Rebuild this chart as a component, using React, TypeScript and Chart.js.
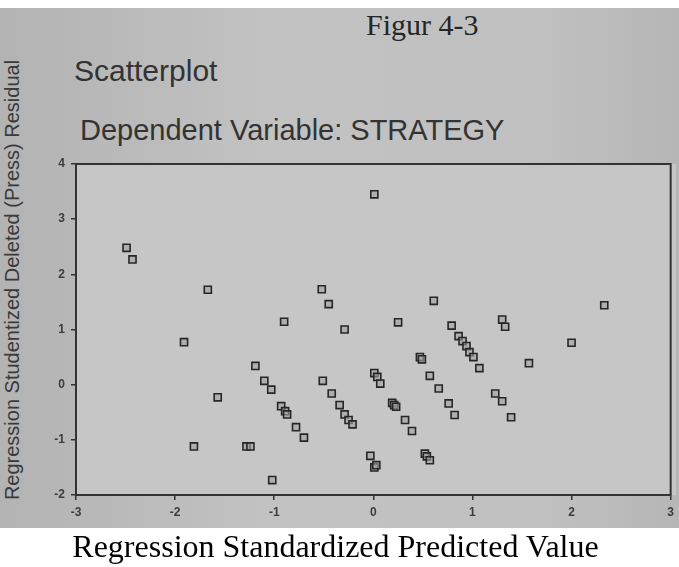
import React, { useEffect, useRef } from "react";
import { Chart, registerables } from "chart.js";

Chart.register(...registerables);

// Regression standardized predicted value (x) vs studentized deleted residual (y)
const predictedValues: number[] = [
  -2.49, -2.43, -1.67, -1.91, -1.57, -1.81, -1.28, -1.24, -1.19, -1.1,
  -1.03, -0.93, -0.89, -0.87, -0.78, -0.7, -1.02, -0.9, -0.52, -0.45,
  -0.29, -0.51, -0.42, -0.34, -0.29, -0.25, -0.21, 0.01, 0.01, 0.04,
  0.07, -0.03, 0.01, 0.03, 0.19, 0.21, 0.23, 0.32, 0.39, 0.25,
  0.47, 0.49, 0.57, 0.66, 0.76, 0.82, 0.52, 0.54, 0.57, 0.61,
  0.79, 0.86, 0.9, 0.94, 0.97, 1.01, 1.07, 1.3, 1.33, 1.57,
  2.0, 2.33, 1.23, 1.3, 1.39,
];
const residualValues: number[] = [
  2.48, 2.27, 1.72, 0.77, -0.23, -1.12, -1.12, -1.12, 0.34, 0.07,
  -0.09, -0.39, -0.48, -0.54, -0.77, -0.96, -1.73, 1.14, 1.73, 1.46,
  1.0, 0.07, -0.16, -0.37, -0.54, -0.64, -0.72, 3.45, 0.21, 0.14,
  0.02, -1.29, -1.5, -1.46, -0.33, -0.37, -0.4, -0.64, -0.84, 1.13,
  0.5, 0.46, 0.16, -0.07, -0.34, -0.55, -1.25, -1.3, -1.37, 1.52,
  1.07, 0.88, 0.79, 0.7, 0.59, 0.5, 0.3, 1.18, 1.05, 0.39,
  0.76, 1.44, -0.16, -0.3, -0.59,
];

const xMin = -3;
const xMax = 3;
const yMin = -2;
const yMax = 4;

const figureLabel = "Figur 4-3";
const chartTitle = "Scatterplot";
const subTitle = "Dependent Variable: STRATEGY";
const xTitle = "Regression Standardized Predicted Value";
const yTitle = "Regression Studentized Deleted (Press) Residual";

const framePlugin = {
  id: "frame",
  afterDraw(chart: any) {
    const { ctx, chartArea } = chart;
    ctx.save();
    ctx.strokeStyle = "#333";
    ctx.lineWidth = 2;
    ctx.beginPath();
    ctx.moveTo(chartArea.left, chartArea.top);
    ctx.lineTo(chartArea.right, chartArea.top);
    ctx.lineTo(chartArea.right, chartArea.bottom);
    ctx.stroke();
    ctx.restore();
  },
};

export default function App() {
  const canvasRef = useRef<HTMLCanvasElement | null>(null);

  useEffect(() => {
    const canvas = canvasRef.current;
    if (!canvas) return;
    const points = predictedValues.map((x, i) => ({ x, y: residualValues[i] }));
    const tickFont = { family: "'Liberation Sans', Arial, sans-serif", size: 12, weight: "bold" as const };
    const chart = new Chart(canvas, {
      type: "scatter",
      data: {
        datasets: [
          {
            data: points,
            pointStyle: "rect",
            pointRadius: 5,
            borderColor: "#262626",
            borderWidth: 1.6,
            backgroundColor: "rgba(160,160,160,0.6)",
          },
        ],
      },
      options: {
        animation: false,
        responsive: false,
        maintainAspectRatio: false,
        layout: { padding: { left: 0, top: 164, right: 3, bottom: 42 } },
        plugins: { legend: { display: false }, tooltip: { enabled: false }, title: { display: false } },
        scales: {
          x: {
            type: "linear",
            min: xMin,
            max: xMax,
            afterFit: (s: any) => {
              s.height = 30;
            },
            ticks: { stepSize: 1, color: "#3c3c3c", font: tickFont, padding: 5 },
            grid: { display: true, drawOnChartArea: false, drawTicks: true, tickLength: 5, color: "#333", lineWidth: 1.5 },
            border: { display: true, color: "#333", width: 2 },
          },
          y: {
            type: "linear",
            min: yMin,
            max: yMax,
            afterFit: (s: any) => {
              s.width = 76;
            },
            ticks: { stepSize: 1, color: "#3c3c3c", font: tickFont, padding: 6 },
            grid: { display: true, drawOnChartArea: false, drawTicks: true, tickLength: 5, color: "#333", lineWidth: 1.5 },
            border: { display: true, color: "#333", width: 2 },
          },
        },
      },
      plugins: [framePlugin],
    });
    return () => chart.destroy();
  }, []);

  const sans = "'Liberation Sans', Arial, sans-serif";
  const serif = "'Liberation Serif', 'Times New Roman', serif";

  return (
    <div
      style={{
        position: "absolute",
        left: 0,
        top: 0,
        width: 679,
        height: 567,
        overflow: "hidden",
        background: "#ffffff",
      }}
    >
      <div
        style={{
          position: "absolute",
          left: 0,
          top: 8,
          width: 679,
          height: 520,
          background: "linear-gradient(90deg, #b3b3b3 0%, #c2c2c2 40%, #c0c0c0 80%, #b6b6b6 100%)",
        }}
      />
      <div
        style={{
          position: "absolute",
          left: 76,
          top: 164,
          width: 600,
          height: 331,
          background: "#c6c6c6",
        }}
      />
      <div
        style={{
          position: "absolute",
          left: 366,
          top: 8,
          fontFamily: serif,
          fontSize: 30,
          color: "#262626",
          whiteSpace: "nowrap",
          lineHeight: "34px",
        }}
      >
        {figureLabel}
      </div>
      <div
        style={{
          position: "absolute",
          left: 74,
          top: 54,
          fontFamily: sans,
          fontSize: 30,
          color: "#333",
          whiteSpace: "nowrap",
          lineHeight: "34px",
        }}
      >
        {chartTitle}
      </div>
      <div
        style={{
          position: "absolute",
          left: 80,
          top: 113,
          fontFamily: sans,
          fontSize: 29,
          color: "#333",
          whiteSpace: "nowrap",
          lineHeight: "34px",
        }}
      >
        {subTitle}
      </div>
      <div
        style={{
          position: "absolute",
          left: 12,
          top: 280,
          width: 0,
          height: 0,
        }}
      >
        <div
          style={{
            position: "absolute",
            left: 0,
            top: 0,
            transform: "translate(-50%, -50%) rotate(-90deg)",
            fontFamily: sans,
            fontSize: 20,
            color: "#3a3a3a",
            whiteSpace: "nowrap",
            lineHeight: "22px",
          }}
        >
          {yTitle}
        </div>
      </div>
      <canvas
        ref={canvasRef}
        width={679}
        height={567}
        style={{ position: "absolute", left: 0, top: 0, width: 679, height: 567 }}
      />
      <div
        style={{
          position: "absolute",
          left: 0,
          width: 679,
          top: 528,
          textAlign: "center",
          fontFamily: serif,
          fontSize: 32,
          color: "#000",
          whiteSpace: "nowrap",
          lineHeight: "36px",
        }}
      >
        <span style={{ marginLeft: -8 }}>{xTitle}</span>
      </div>
    </div>
  );
}
